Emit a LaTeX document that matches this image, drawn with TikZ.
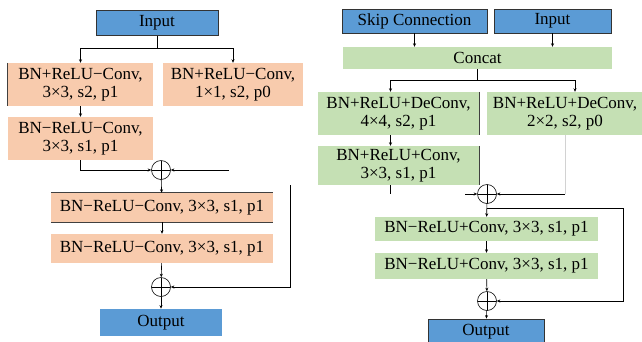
\documentclass[tikz,border=0pt]{standalone}
\usepackage{fontspec}
\setmainfont{Liberation Serif}
\usetikzlibrary{arrows.meta}
\definecolor{ioblue}{HTML}{5B9BD5}
\definecolor{peachF}{HTML}{F8CBAD}
\definecolor{greenF}{HTML}{C5E0B4}
\tikzset{
  box/.style={inner sep=0pt, align=center, font=\fontsize{17}{18.5}\selectfont},
  iobox/.style={box, fill=ioblue, draw=black!80, line width=0.7pt},
  peachbox/.style={box, fill=peachF},
  greenbox/.style={box, fill=greenF},
  edge/.style={draw=black!75, line width=0.8pt},
  plusnode/.style={circle, draw, line width=0.6pt, minimum size=19pt, inner sep=0pt,
    path picture={\draw[line width=0.6pt] (path picture bounding box.north) -- (path picture bounding box.south)
      (path picture bounding box.west) -- (path picture bounding box.east);}},
  arr/.style={-{Stealth[length=3.5pt,width=3pt]}, line width=0.6pt},
  ln/.style={line width=0.6pt},
  faint/.style={draw=gray!35, line width=0.6pt}
}
\begin{document}
\begin{tikzpicture}[x=1pt,y=-1pt]
\useasboundingbox[fill=white] (0,0) rectangle (642,341);

% ---------- down-sampling residual block ----------
\node[iobox, minimum width=122pt, minimum height=25pt] (inL) at (157,23) {Input};
\node[peachbox, minimum width=145pt, minimum height=43pt] (b1) at (80.5,84.5) {BN+ReLU−Conv,\\3×3, s2, p1};
\node[peachbox, minimum width=140pt, minimum height=43pt] (b2) at (233,84.5) {BN+ReLU−Conv,\\1×1, s2, p0};
\node[peachbox, minimum width=145pt, minimum height=43pt] (b3) at (80.5,138.5) {BN−ReLU−Conv,\\3×3, s1, p1};
\node[plusnode] (p1) at (161,170) {};
\node[peachbox, minimum width=222pt, minimum height=29pt] (b4) at (162,207.5) {BN−ReLU−Conv, 3×3, s1, p1};
\node[peachbox, minimum width=222pt, minimum height=29pt] (b5) at (162,248.5) {BN−ReLU−Conv, 3×3, s1, p1};
\node[plusnode] (p2) at (161,287) {};
\node[iobox, draw=none, minimum width=122pt, minimum height=27pt] (outL) at (161,322.5) {Output};

\draw[edge] (b1.north west) -- (b1.south west);
\draw[edge] (b4.north west) -- (b4.north east) (b4.south west) -- (b4.south east);

\coordinate (jL) at (157,48);
\draw[ln] (inL.south) -- (jL);
\draw[arr] (jL) -| (b1.north);
\draw[arr] (jL) -| (b2.north);
\draw[arr] (b1) -- (b3);
\draw[arr] (b3.south) |- (p1.west);
\coordinate (cA) at (229,170);
\draw[arr] (cA) -- (p1.east);
\draw[arr] (p1) -- (b4);
\draw[arr] (b4) -- (b5);
\draw[arr] (b5) -- (p2);
\draw[arr] (p2) -- (outL);
\coordinate (cB) at (290,185);
\draw[arr] (cB) |- (p2.east);

% ---------- up-sampling residual block ----------
\node[iobox, minimum width=145pt, minimum height=24pt] (skip) at (414.5,21) {Skip Connection};
\node[iobox, minimum width=117pt, minimum height=24pt] (inR) at (552.5,21) {Input};
\node[greenbox, minimum width=269pt, minimum height=22pt] (concat) at (477.5,58) {Concat};
\node[greenbox, minimum width=161pt, minimum height=43pt] (bA) at (398.5,113.5) {BN+ReLU+DeConv,\\4×4, s2, p1};
\node[greenbox, minimum width=156pt, minimum height=43pt] (bB) at (565,113.5) {BN+ReLU+DeConv,\\2×2, s2, p0};
\node[greenbox, minimum width=161pt, minimum height=39pt] (bC) at (398.5,165.5) {BN+ReLU+Conv,\\3×3, s1, p1};
\node[plusnode] (p3) at (487,194) {};
\node[greenbox, minimum width=223pt, minimum height=24pt] (bD) at (486.5,229) {BN−ReLU+Conv, 3×3, s1, p1};
\node[greenbox, minimum width=223pt, minimum height=26pt] (bE) at (486.5,266) {BN−ReLU+Conv, 3×3, s1, p1};
\node[plusnode] (p4) at (487,301) {};
\node[iobox, minimum width=116pt, minimum height=26pt] (outR) at (486,332) {Output};

\draw[edge] (bA.north east) -- (bA.south east);
\draw[edge] (bC.north east) -- (bC.south east);

\draw[arr] (skip) -- (skip |- concat.north);
\draw[arr] (inR) -- (inR |- concat.north);
\coordinate (jR) at (477.5,80);
\draw[ln] (concat.south) -- (jR);
\draw[arr] (jR) -| ([xshift=-8pt]bA.north);
\draw[arr] (jR) -| ([xshift=10pt]bB.north);
\draw[arr] ([xshift=-8pt]bA.south) -- ([xshift=-8pt]bC.north);
\draw[ln] ([xshift=-8pt]bC.south) -- ++(0,9);
\coordinate (cC) at (465,194);
\draw[arr] (cC) -- (p3.west);
\coordinate (cD) at (bB.south |- p3);
\draw[faint] (bB.south) -- (cD);
\draw[arr] (cD) -- (p3.east);
\draw[arr] (p3) -- (bD);
\coordinate (jS) at (487,208);
\coordinate (cE) at (623,208);
\draw[arr] (jS) -- (cE) |- (p4.east);
\draw[arr] (bD) -- (bE);
\draw[arr] (bE) -- (p4);
\draw[arr] (p4) -- (outR);
\end{tikzpicture}
\end{document}
